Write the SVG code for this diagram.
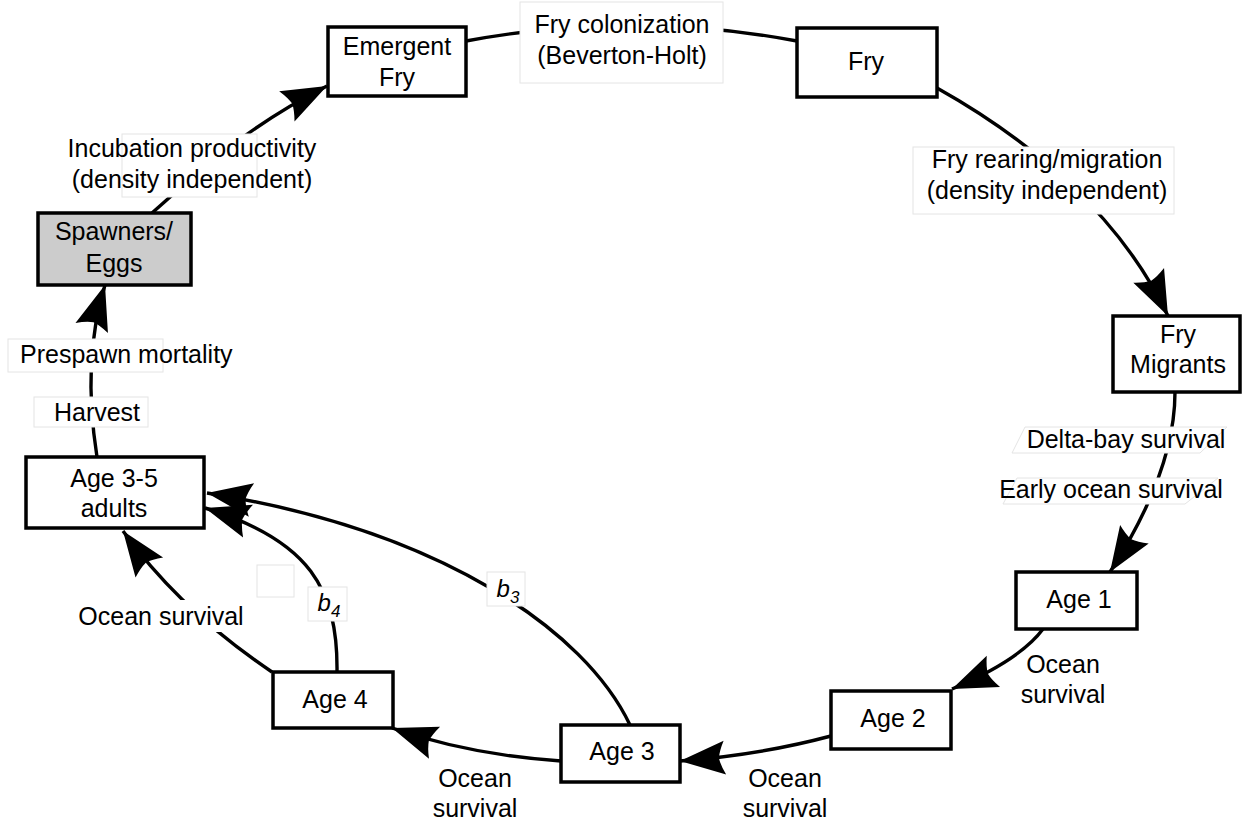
<svg xmlns="http://www.w3.org/2000/svg" width="1243" height="823" viewBox="0 0 1243 823">
<style>
text{font-family:"Liberation Sans",Arial,sans-serif;font-size:25px;fill:#000;text-anchor:middle}
.node{fill:#fff;stroke:#000;stroke-width:3.5}
.conn{fill:none;stroke:#000;stroke-width:3.4}
.lbl{fill:#fff;stroke:#e4e4e4;stroke-width:1}
.bg{fill:#fff;stroke:none}
</style>
<defs>
<marker id="ah" markerUnits="userSpaceOnUse" markerWidth="60" markerHeight="44" viewBox="-52 -22 60 44" refX="0" refY="0" orient="auto" overflow="visible">
<path d="M0,0 L-45,-17 Q-40,-7 -39,0 Q-40,7 -45,17 Z" fill="#000"/>
</marker>
</defs>
<rect width="1243" height="823" fill="#fff"/>
<g id="connectors">
<path class="conn" d="M152,213 C190,180 240,130 327,86" marker-end="url(#ah)"/>
<path class="conn" d="M466,41 Q632,10 797,41"/>
<path class="conn" d="M937,88 C1030,140 1120,215 1168,316" marker-end="url(#ah)"/>
<path class="conn" d="M1175,392 C1175,450 1150,510 1110,572" marker-end="url(#ah)"/>
<path class="conn" d="M1043,629 Q1020,660 952,689" marker-end="url(#ah)"/>
<path class="conn" d="M831,736 Q760,755 680,761" marker-end="url(#ah)"/>
<path class="conn" d="M561,761 Q470,755 392,728" marker-end="url(#ah)"/>
<path class="conn" d="M272,672 Q180,610 123,531" marker-end="url(#ah)"/>
<path class="conn" d="M337,672 C338,590 310,540 205,508" marker-end="url(#ah)"/>
<path class="conn" d="M630,725 C585,630 440,530 207,493" marker-end="url(#ah)"/>
<path class="conn" d="M97,457 C88,400 88,340 105,285" marker-end="url(#ah)"/>
</g>
<g id="labels">
<rect class="lbl" x="520" y="2" width="203" height="81"/>
<text x="622" y="33">Fry colonization</text>
<text x="622" y="64">(Beverton-Holt)</text>
<rect class="lbl" x="122" y="134" width="135" height="63"/>
<text x="192" y="157">Incubation productivity</text>
<text x="192" y="188">(density independent)</text>
<rect class="lbl" x="913" y="147" width="261" height="67"/>
<text x="1047" y="168">Fry rearing/migration</text>
<text x="1047" y="199">(density independent)</text>
<polygon class="lbl" points="1025,427 1227,427 1200,453 1012,453"/>
<text x="1126" y="448">Delta-bay survival</text>
<polygon class="lbl" points="1017,478 1218,478 1185,504 1003,504"/>
<text x="1111" y="498">Early ocean survival</text>
<text x="1063" y="673">Ocean</text>
<text x="1063" y="703">survival</text>
<text x="785" y="787">Ocean</text>
<text x="785" y="817">survival</text>
<text x="475" y="787">Ocean</text>
<text x="475" y="817">survival</text>
<rect class="bg" x="77" y="600" width="168" height="32"/>
<text x="161" y="625">Ocean survival</text>
<rect class="lbl" x="8" y="339" width="155" height="33"/>
<text x="20" y="363" style="text-anchor:start">Prespawn mortality</text>
<rect class="lbl" x="34" y="397" width="114" height="30"/>
<text x="97" y="421">Harvest</text>
<rect class="lbl" x="257" y="565" width="37" height="32"/>
<rect class="lbl" x="308" y="587" width="39" height="34"/>
<text x="329" y="611" style="font-size:24px;font-style:italic">b<tspan style="font-size:17px" dy="6">4</tspan></text>
<rect class="lbl" x="487" y="572" width="38" height="34"/>
<text x="508" y="597" style="font-size:24px;font-style:italic">b<tspan style="font-size:17px" dy="6">3</tspan></text>
</g>
<g id="emergent-fry">
<rect class="node" x="328" y="27" width="138" height="69"/>
<text x="397" y="55">Emergent</text>
<text x="397" y="86">Fry</text>
</g>
<g id="fry">
<rect class="node" x="797" y="28" width="140" height="69"/>
<text x="866" y="70">Fry</text>
</g>
<g id="fry-migrants">
<rect class="node" x="1113" y="316" width="127" height="76"/>
<text x="1178" y="343">Fry</text>
<text x="1178" y="373">Migrants</text>
</g>
<g id="age1">
<rect class="node" x="1016" y="572" width="121" height="57"/>
<text x="1079" y="608">Age 1</text>
</g>
<g id="age2">
<rect class="node" x="831" y="691" width="120" height="58"/>
<text x="893" y="727">Age 2</text>
</g>
<g id="age3">
<rect class="node" x="561" y="725" width="119" height="57"/>
<text x="622" y="760">Age 3</text>
</g>
<g id="age4">
<rect class="node" x="273" y="672" width="120" height="56"/>
<text x="335" y="708">Age 4</text>
</g>
<g id="age35-adults">
<rect class="node" x="26" y="457" width="178" height="71"/>
<text x="114" y="487">Age 3-5</text>
<text x="114" y="517">adults</text>
</g>
<g id="spawners-eggs">
<rect class="node" x="38" y="213" width="153" height="72" style="fill:#cccccc"/>
<text x="114" y="240">Spawners/</text>
<text x="114" y="272">Eggs</text>
</g>
</svg>
